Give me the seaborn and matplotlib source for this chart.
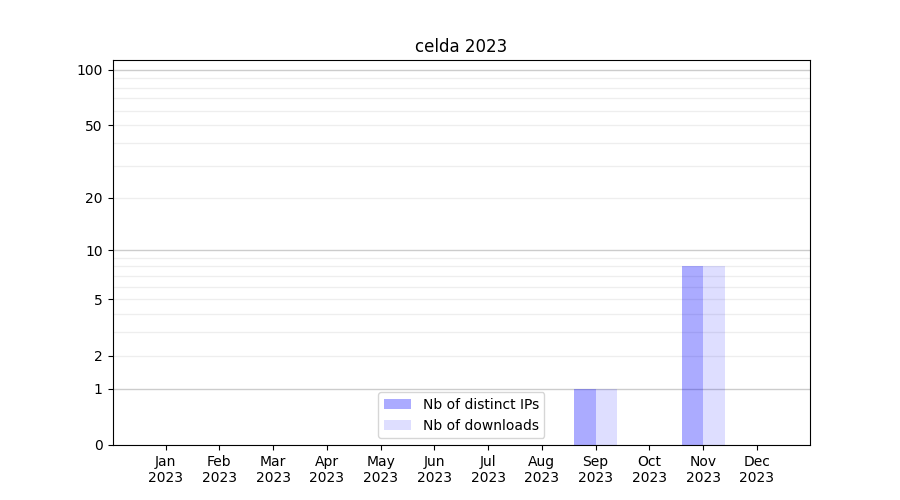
import numpy as np
import pandas as pd
import seaborn as sns
import matplotlib
matplotlib.use("Agg")
import matplotlib.pyplot as plt

# monthly stats for 2023
months = ["Jan", "Feb", "Mar", "Apr", "May", "Jun", "Jul", "Aug", "Sep", "Oct", "Nov", "Dec"]
year = "2023"
distinct_ips = [0, 0, 0, 0, 0, 0, 0, 0, 1, 0, 8, 0]
downloads = [0, 0, 0, 0, 0, 0, 0, 0, 1, 0, 8, 0]
series_names = ["Nb of distinct IPs", "Nb of downloads"]

y_ticks = [0, 1, 2, 5, 10, 20, 50, 100]
y_minor = [3, 4, 6, 7, 8, 9, 30, 40, 60, 70, 80, 90]
y_decades = [1, 10, 100]

df = pd.DataFrame({
    "month": months * 2,
    "value": distinct_ips + downloads,
    "serie": [series_names[0]] * len(months) + [series_names[1]] * len(months),
})

fig, ax = plt.subplots(figsize=(9, 5), dpi=100)

sns.barplot(data=df, x="month", y="value", hue="serie", order=months,
            hue_order=series_names,
            palette=[(0, 0, 1, 0.33), (0, 0, 1, 0.13)],
            saturation=1, width=0.8, ax=ax)

ax.set_yscale("function", functions=(lambda v: np.log10(1 + np.asarray(v)),
                                     lambda v: 10 ** np.asarray(v) - 1))
ax.set_ylim(0, 113)
ax.set_yticks(y_ticks)
ax.set_yticklabels([str(t) for t in y_ticks])
ax.set_yticks(y_minor, minor=True)
ax.tick_params(axis="y", which="minor", length=0)
# light lines everywhere, darker ones on the decades
ax.grid(axis="y", which="both", color="#eeeeee", linewidth=0.9)
for d in y_decades:
    ax.axhline(d, color="#cccccc", linewidth=0.9, zorder=0.6)
ax.set_axisbelow(True)

ax.set_xlim(-0.99, 11.99)
ax.set_xticks(range(len(months)))
ax.set_xticklabels([f"{m}\n{year}" for m in months])
ax.set_xlabel("")
ax.set_ylabel("")
ax.set_title("celda 2023")

handles, labels = ax.get_legend_handles_labels()
ax.legend(handles, labels, loc="lower center")

plt.savefig("out.png", dpi=100)
